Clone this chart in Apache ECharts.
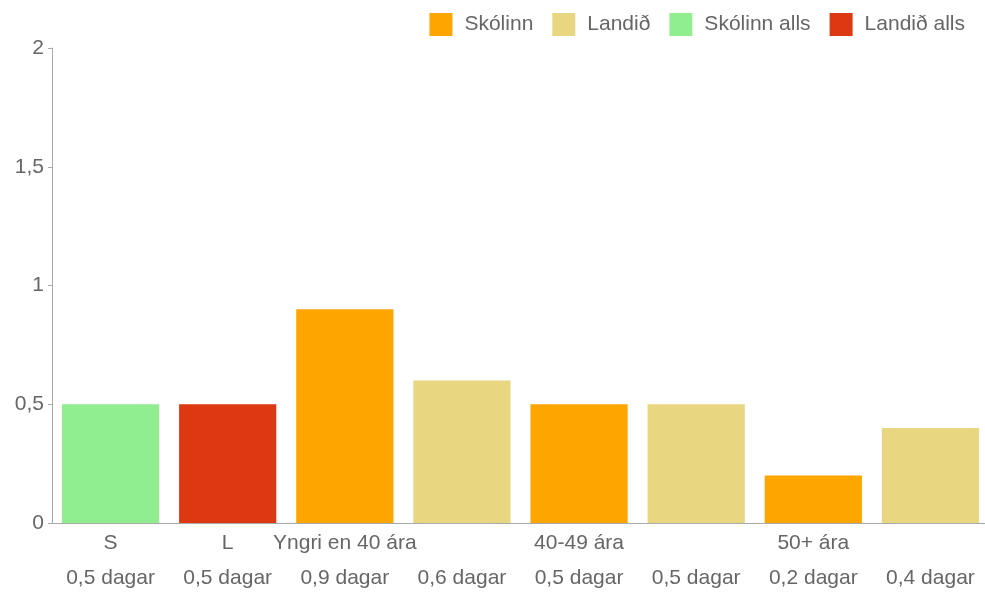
<!DOCTYPE html>
<html>
<head>
<meta charset="utf-8">
<script src="https://cdn.jsdelivr.net/npm/echarts@6/dist/echarts.min.js"></script>
<style>
  html, body { margin: 0; padding: 0; background: #fff; }
  #chart { width: 985px; height: 592px; }
</style>
</head>
<body>
<div id="chart"></div>
<script>
const categories = ['S', 'L', 'Yngri en 40 ára', '', '40-49 ára', '', '50+ ára', '']
const dayLabels = ['0,5 dagar', '0,5 dagar', '0,9 dagar', '0,6 dagar', '0,5 dagar', '0,5 dagar', '0,2 dagar', '0,4 dagar']
const skolinn = [null, null, 0.9, null, 0.5, null, 0.2, null]
const landid = [null, null, null, 0.6, null, 0.5, null, 0.4]
const skolinnAlls = [0.5, null, null, null, null, null, null, null]
const landidAlls = [null, 0.5, null, null, null, null, null, null]
const yTicks = [0, 0.5, 1, 1.5, 2]

const chart = echarts.init(document.getElementById('chart'))

const textColor = '#666'
const axisColor = '#aaa'
const font = 'Liberation Sans, Arial, sans-serif'

function bar(name, data, color) {
  return {
    name,
    type: 'bar',
    stack: 'all',
    data,
    barCategoryGap: '17%',
    itemStyle: { color },
    emphasis: { disabled: true }
  }
}

chart.setOption({
  animation: false,
  legend: {
    top: 8,
    right: 15,
    itemWidth: 23,
    itemHeight: 23,
    itemGap: 19,
    icon: 'rect',
    textStyle: { color: textColor, fontSize: 21, fontFamily: font, padding: [0, 0, 0, 7] },
    data: ['Skólinn', 'Landið', 'Skólinn alls', 'Landið alls']
  },
  grid: { top: 48, bottom: 69, left: 52, right: -4, outerBoundsMode: 'none' },
  xAxis: {
    type: 'category',
    data: categories.map((c, i) => ({ value: i, label: c })),
    axisLine: { lineStyle: { color: axisColor } },
    axisTick: {
      alignWithLabel: true,
      length: 5,
      lineStyle: { color: axisColor },
      interval: (i) => categories[i] !== ''
    },
    axisLabel: {
      interval: 0,
      color: textColor,
      fontSize: 21,
      fontFamily: font,
      lineHeight: 35,
      margin: 3,
      formatter: (v) => categories[v] + '\n' + dayLabels[v]
    }
  },
  yAxis: {
    type: 'value',
    min: yTicks[0],
    max: yTicks[yTicks.length - 1],
    interval: 0.5,
    axisLine: { show: true, lineStyle: { color: axisColor } },
    axisTick: { show: true, length: 4, lineStyle: { color: axisColor } },
    splitLine: { show: false },
    axisLabel: {
      color: textColor,
      fontSize: 21,
      fontFamily: font,
      margin: 8,
      formatter: (v) => String(v).replace('.', ',')
    }
  },
  series: [
    bar('Skólinn', skolinn, '#FFA500'),
    bar('Landið', landid, '#E8D680'),
    bar('Skólinn alls', skolinnAlls, '#90EE90'),
    bar('Landið alls', landidAlls, '#DC3912')
  ]
})
</script>
</body>
</html>
